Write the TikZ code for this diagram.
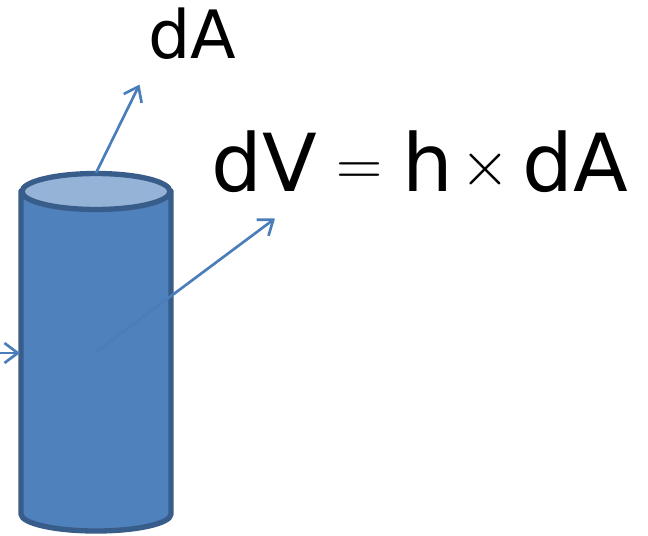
\documentclass[tikz,border=0pt]{standalone}
\usepackage{fix-cm}
\usepackage{fontspec}
\setmainfont{DejaVu Sans}
\usetikzlibrary{arrows.meta}
\definecolor{cylfill}{HTML}{4F81BD}
\definecolor{cylline}{HTML}{385D8A}
\definecolor{cyltop}{HTML}{95B3D7}
\definecolor{normalline}{HTML}{4A7EBB}
\newcommand{\eqsign}[1]{\raisebox{4pt}{\fontsize{48}{52}\selectfont$#1$}}
\tikzset{
  cylwall/.style={draw=cylline, line width=4pt, line join=round, fill=cylfill},
  cyllid/.style={draw=cylline, line width=4pt, fill=cyltop},
  normalarrow/.style={draw=normalline, line width=2pt, -{Straight Barb[length=10pt,width=15pt,line width=2pt]}},
  bigtext/.style={font=\fontsize{50}{56}\selectfont, inner sep=0pt, anchor=base west}
}
\begin{document}
\begin{tikzpicture}[x=0.75pt, y=-0.75pt]
    \useasboundingbox (0,0) rectangle (648,535);
    \draw[cylwall] (21,191) -- (21,514) arc[start angle=180, end angle=0, x radius=75, y radius=17] -- (171,191) -- cycle;
    \draw[cyllid] (96,191.5) ellipse[x radius=74, y radius=18];
    \coordinate (topstart) at (96,173);
    \coordinate (toptip) at (139.5,84.5);
    \coordinate (sidestart) at (96,352);
    \coordinate (sidetip) at (275,218.5);
    \coordinate (backstart) at (-12,353);
    \coordinate (backtip) at (20,353);
    \draw[normalarrow] (topstart) -- (toptip);
    \draw[normalarrow] (sidestart) -- (sidetip);
    \draw[normalarrow] (backstart) -- (backtip);
    \node[bigtext] (areatext) at (148,59) {dA};
    \node[bigtext, font=\fontsize{60}{66}\selectfont] (voltext) at (211,191) {dV\hspace{15pt}\eqsign{=}\hspace{15pt}h\hspace{5.5pt}\eqsign{\times}\hspace{9pt}dA};
\end{tikzpicture}
\end{document}
